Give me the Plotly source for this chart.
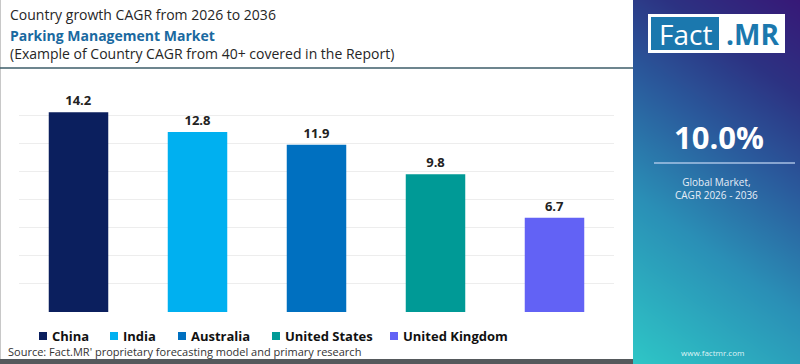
import numpy as np
import plotly.graph_objects as go

W, H = 800, 364

countries = ["China", "India", "Australia", "United States", "United Kingdom"]
cagr = [14.2, 12.8, 11.9, 9.8, 6.7]
colors = ["#0b1f5e", "#00b0f0", "#0070c0", "#009a96", "#6262f5"]
y_ticks = [0, 2, 4, 6, 8, 10, 12, 14, 16]

title_line1 = "Country growth CAGR from 2026 to 2036"
title_line2 = "Parking Management Market"
title_line3 = "(Example of Country CAGR from 40+ covered in the Report)"
source_text = "Source: Fact.MR' proprietary forecasting model and primary research"
global_cagr = "10.0%"
global_label = "Global Market,<br>CAGR 2026 - 2036"
website = "www.factmr.com"

FONT = "Open Sans"

fig = go.Figure()

for c, v, col in zip(countries, cagr, colors):
    fig.add_trace(go.Bar(
        x=[c], y=[v], name=c, marker=dict(color=col, line=dict(width=0)),
        width=0.5, text=[f"{v:.1f}"], textposition="outside",
        textfont=dict(family=FONT, size=13, color="#222222", weight="bold"),
        cliponaxis=False, hoverinfo="x+y", showlegend=False,
    ))

# gradient panel on the right (decorative background)
n = 40
gx = np.linspace(0, 1, n)
gy = np.linspace(0, 1, n)
GX, GY = np.meshgrid(gx, gy)
Z = 0.75 * GY + 0.25 * GX
fig.add_trace(go.Heatmap(
    z=Z, x=gx, y=gy, xaxis="x2", yaxis="y2", zsmooth="best",
    colorscale=[[0, "#2ec6c6"], [0.35, "#2a8fb6"], [0.6, "#2a5a9c"], [0.8, "#2c3282"], [1, "#371877"]],
    showscale=False, hoverinfo="skip", showlegend=False,
))

px0 = 633 / W

fig.update_layout(
    width=W, height=H,
    margin=dict(l=0, r=0, t=0, b=0),
    paper_bgcolor="white", plot_bgcolor="white",
    barmode="overlay",
    font=dict(family=FONT, color="#222222"),
    xaxis=dict(domain=[19 / W, 614 / W], showticklabels=False, showgrid=False,
               zeroline=False, showline=False, ticks=""),
    yaxis=dict(domain=[(H - 312) / H, (H - 87) / H], range=[0, 16],
               tickvals=y_ticks, showticklabels=False, showgrid=True,
               gridcolor="#ededed", gridwidth=1, zeroline=False, showline=False),
    xaxis2=dict(domain=[px0, 1], range=[0, 1], visible=False, fixedrange=True),
    yaxis2=dict(domain=[0, 1], range=[0, 1], visible=False, fixedrange=True, anchor="x2"),
    showlegend=False,
)

shapes = [
    # left border
    dict(type="line", xref="paper", yref="paper", x0=0.5 / W, x1=0.5 / W, y0=0, y1=1,
         line=dict(color="#c8c8c8", width=1)),
    # line under header
    dict(type="line", xref="paper", yref="paper", x0=0, x1=px0, y0=1 - 68 / H, y1=1 - 68 / H,
         line=dict(color="#3d5c68", width=1.5)),
    # bottom dark band
    dict(type="rect", xref="paper", yref="paper", x0=0, x1=px0, y0=0, y1=5 / H,
         fillcolor="#55595c", line=dict(width=0)),
    # logo white box
    dict(type="rect", xref="paper", yref="paper", x0=648 / W, x1=785 / W, y0=1 - 53 / H, y1=1 - 14 / H,
         fillcolor="white", line=dict(width=0)),
    dict(type="rect", xref="paper", yref="paper", x0=651 / W, x1=719 / W, y0=1 - 50 / H, y1=1 - 17 / H,
         fillcolor="#1b78ae", line=dict(width=0)),
    # separator in panel
    dict(type="line", xref="paper", yref="paper", x0=654 / W, x1=795 / W, y0=1 - 163 / H, y1=1 - 163 / H,
         line=dict(color="rgba(190,210,240,0.85)", width=1.5)),
]

# manual legend (layout positions for each entry)
legend_sq_x = [39, 110, 178, 272, 390]
legend_y = 336
for c, col, sx in zip(countries, colors, legend_sq_x):
    shapes.append(dict(type="rect", xref="paper", yref="paper",
                       x0=sx / W, x1=(sx + 8) / W, y0=1 - (legend_y + 4) / H, y1=1 - (legend_y - 4) / H,
                       fillcolor=col, line=dict(width=0)))
    fig.add_annotation(text=c, xref="paper", yref="paper", x=(sx + 11) / W, y=1 - legend_y / H,
                       xanchor="left", yanchor="middle", showarrow=False,
                       font=dict(family=FONT, size=13, color="#111111", weight="bold"))

fig.update_layout(shapes=shapes)

def ann(text, x, y, size, color, xanchor="left", weight="normal", family=FONT):
    fig.add_annotation(text=text, xref="paper", yref="paper", x=x / W, y=1 - y / H,
                       xanchor=xanchor, yanchor="middle", showarrow=False,
                       font=dict(family=family, size=size, color=color, weight=weight))

ann(title_line1, 8, 15, 14, "#262626")
ann(title_line2, 8, 35, 14, "#1a69a0", weight="bold")
ann(title_line3, 8, 53, 14, "#262626")
ann(source_text, 6, 351, 11, "#333333")

ann("Fact", 685, 34, 28, "white", xanchor="center")
ann(".MR", 752, 34, 28, "#1b78ae", xanchor="center", weight="bold")
ann(global_cagr, 719, 137, 31, "white", xanchor="center", weight="bold")
fig.add_annotation(text=global_label, xref="paper", yref="paper", x=716 / W, y=1 - 188 / H,
                   xanchor="center", yanchor="middle", showarrow=False, align="center",
                   font=dict(family=FONT, size=10, color="#e8eef8"))
ann(website, 712, 352, 8, "#dff4f6", xanchor="center")

fig.write_html("out.html", config={"displayModeBar": False},
               post_script="document.body.style.margin='0';document.body.style.overflow='hidden';")
